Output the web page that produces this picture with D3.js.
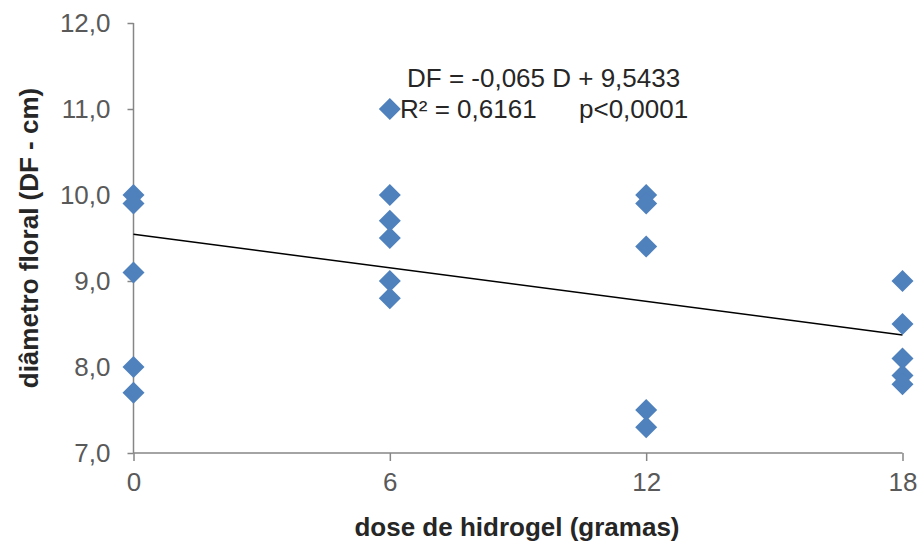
<!DOCTYPE html>
<html>
<head>
<meta charset="utf-8">
<script src="https://cdn.jsdelivr.net/npm/d3@7"></script>
<style>
  body { margin: 0; background: #fff; }
  svg text { font-family: "Liberation Sans", Arial, sans-serif; }
</style>
</head>
<body>
<div class="gv-chart"></div>
<script>
// dose (g) and floral diameter (cm)
var doses = [0, 0, 0, 0, 0, 6, 6, 6, 6, 6, 6, 12, 12, 12, 12, 12, 18, 18, 18, 18, 18];
var diametros = [10.0, 9.9, 9.1, 8.0, 7.7, 11.0, 10.0, 9.7, 9.5, 9.0, 8.8, 10.0, 9.9, 9.4, 7.5, 7.3, 9.0, 8.5, 8.1, 7.9, 7.8];
var xTicks = [0, 6, 12, 18];
var yTicks = [7, 8, 9, 10, 11, 12];
var slope = -0.065, intercept = 9.5433;

var width = 921, height = 543;
var margin = { left: 133.5, right: 18.5, top: 23, bottom: 90 };

var svg = d3.select(".gv-chart").append("svg")
    .attr("width", width).attr("height", height);

var x = d3.scaleLinear().domain([0, 18]).range([margin.left, width - margin.right]);
var y = d3.scaleLinear().domain([7, 12]).range([height - margin.bottom, margin.top]);

var fmt = d => d3.format(".1f")(d).replace(".", ",");

// y axis
var yAxis = svg.append("g")
    .attr("transform", `translate(${margin.left},0)`)
    .call(d3.axisLeft(y).tickValues(yTicks).tickSize(6).tickPadding(17).tickFormat(fmt));
yAxis.select(".domain").attr("stroke", "#868686").attr("stroke-width", 1.5).attr("d", `M0,${y(12)}V${y(7)}`);
yAxis.selectAll(".tick line").attr("stroke", "#868686").attr("stroke-width", 1.5);
yAxis.selectAll(".tick text").attr("fill", "#595959").style("font-size", "26px");

// x axis
var xAxis = svg.append("g")
    .attr("transform", `translate(0,${y(7)})`)
    .call(d3.axisBottom(x).tickValues(xTicks).tickSize(8).tickPadding(12));
xAxis.select(".domain").attr("stroke", "#868686").attr("stroke-width", 1.5).attr("d", `M${x(0)},0H${x(18)}`);
xAxis.selectAll(".tick line").attr("stroke", "#868686").attr("stroke-width", 1.5);
xAxis.selectAll(".tick text").attr("fill", "#595959").style("font-size", "26px");

// trend line
svg.append("line")
    .attr("x1", x(0)).attr("y1", y(intercept))
    .attr("x2", x(18)).attr("y2", y(intercept + slope * 18))
    .attr("stroke", "#000").attr("stroke-width", 1.5);

// points
var pts = doses.map((d, i) => ({ d: d, df: diametros[i] }));
svg.append("g").selectAll("path")
    .data(pts)
    .enter()
    .append("path")
    .attr("transform", p => `translate(${x(p.d)},${y(p.df)})`)
    .attr("d", "M0,-11L11,0L0,11L-11,0Z")
    .attr("fill", "#4F81BD");

// equation
svg.append("text").attr("x", 407).attr("y", 87)
    .attr("fill", "#262626").style("font-size", "26px")
    .text("DF = -0,065 D + 9,5433");
svg.append("text").attr("x", 400).attr("y", 118)
    .attr("fill", "#262626").style("font-size", "26px")
    .text("R² = 0,6161");
svg.append("text").attr("x", 579).attr("y", 118)
    .attr("fill", "#262626").style("font-size", "26px")
    .text("p<0,0001");

// axis titles
svg.append("text")
    .attr("x", 517).attr("y", 536)
    .attr("text-anchor", "middle").attr("font-weight", "bold")
    .attr("fill", "#262626").style("font-size", "26px")
    .text("dose de hidrogel (gramas)");
svg.append("text")
    .attr("transform", `translate(38,${(y(7) + y(12)) / 2}) rotate(-90)`)
    .attr("text-anchor", "middle").attr("font-weight", "bold")
    .attr("fill", "#262626").style("font-size", "26px")
    .text("diâmetro floral (DF - cm)");
</script>
</body>
</html>
